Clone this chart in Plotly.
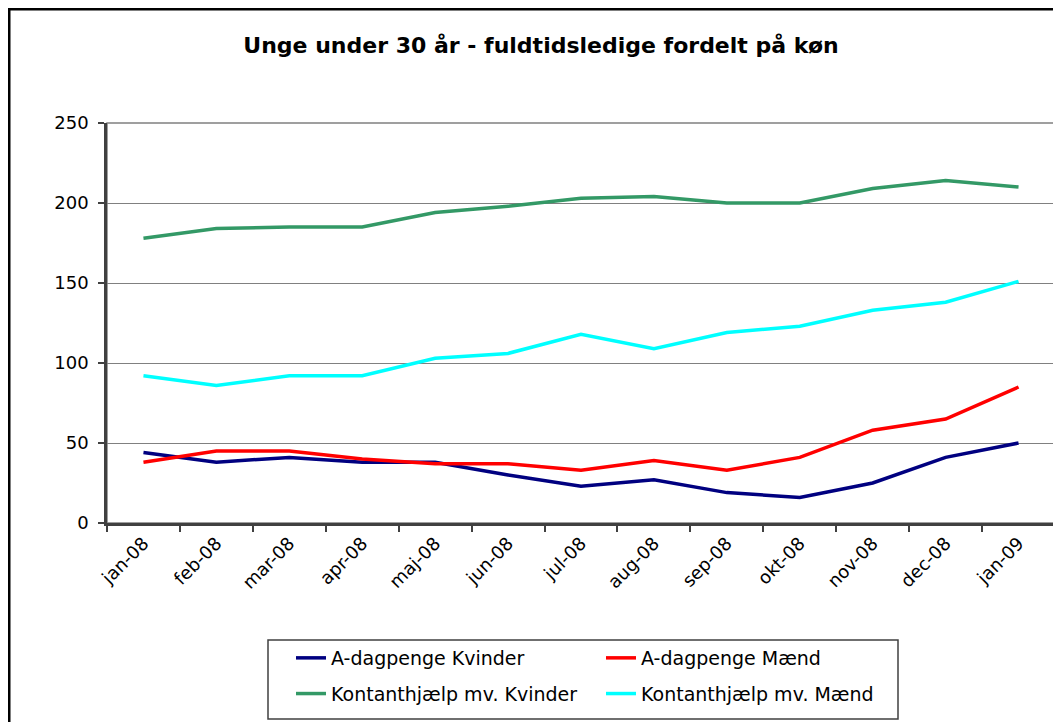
import plotly.graph_objects as go

months = ["jan-08", "feb-08", "mar-08", "apr-08", "maj-08", "jun-08", "jul-08",
          "aug-08", "sep-08", "okt-08", "nov-08", "dec-08", "jan-09"]
a_kvinder = [44, 38, 41, 38, 38, 30, 23, 27, 19, 16, 25, 41, 50]
a_maend = [38, 45, 45, 40, 37, 37, 33, 39, 33, 41, 58, 65, 85]
k_kvinder = [178, 184, 185, 185, 194, 198, 203, 204, 200, 200, 209, 214, 210]
k_maend = [92, 86, 92, 92, 103, 106, 118, 109, 119, 123, 133, 138, 151]

series = [
    ("A-dagpenge Kvinder", a_kvinder, "#000080", "legend"),
    ("A-dagpenge Mænd", a_maend, "#FF0000", "legend2"),
    ("Kontanthjælp mv. Kvinder", k_kvinder, "#339966", "legend"),
    ("Kontanthjælp mv. Mænd", k_maend, "#00FFFF", "legend2"),
]

fig = go.Figure()
for name, vals, col, lg in series:
    fig.add_trace(go.Scatter(x=months, y=vals, name=name, mode="lines",
                             legend=lg, legendgroup=name,
                             line=dict(color=col, width=3.5)))

# page has an 8px body margin; target screen coordinates are converted
OFF = 8
W, H = 1061 - OFF, 722 - OFF
L, R, T, B = 107 - OFF, 6, 123 - OFF, 199
pw, ph = W - L - R, H - T - B


def px_x(p):
    return (p - OFF - L) / pw


def px_y(p):
    return (H - B - (p - OFF)) / ph


legend_common = dict(orientation="v", yanchor="top", y=px_y(639),
                     xanchor="left", borderwidth=0, bgcolor="rgba(0,0,0,0)",
                     font=dict(family="DejaVu Sans", size=19, color="black"),
                     tracegroupgap=8)

fig.update_layout(
    width=W, height=H,
    margin=dict(l=L, r=R, t=T, b=B, autoexpand=False),
    paper_bgcolor="white", plot_bgcolor="white",
    font=dict(family="DejaVu Sans", size=17, color="black"),
    title=dict(text="<b>Unge under 30 år - fuldtidsledige fordelt på køn</b>",
               font=dict(family="DejaVu Sans", size=22, color="black"),
               x=(541 - OFF) / W, xanchor="center",
               y=1 - (45 - OFF) / H, yanchor="middle"),
    xaxis=dict(type="category", range=[-0.5, 12.5], tickson="boundaries",
               ticks="outside", ticklen=6, tickcolor="#404040", tickwidth=1.5,
               showline=True, linecolor="#404040", linewidth=2.5,
               showgrid=False, tickangle=-45, tickfont=dict(size=18)),
    yaxis=dict(range=[0, 250], dtick=50, ticks="outside", ticklen=6,
               tickcolor="#404040", tickwidth=1.5,
               showline=True, linecolor="#404040", linewidth=2.5,
               showgrid=True, gridcolor="#808080", gridwidth=1.2,
               zeroline=False, tickfont=dict(size=18), ticklabelstandoff=6),
    legend=dict(x=px_x(291), **legend_common),
    legend2=dict(x=px_x(601), **legend_common),
    showlegend=True,
    shapes=[
        dict(type="rect", xref="paper", yref="paper", x0=0, x1=1, y0=0, y1=1,
             line=dict(color="#808080", width=1.5), layer="below"),
        dict(type="rect", xref="paper", yref="paper",
             x0=px_x(268), x1=px_x(898), y0=px_y(719), y1=px_y(640),
             line=dict(color="#404040", width=1.5), layer="above"),
        dict(type="rect", xref="paper", yref="paper",
             x0=px_x(9), x1=px_x(1100), y0=px_y(760), y1=px_y(9),
             line=dict(color="black", width=3), layer="above"),
    ],
)

fig.write_html("out.html")
